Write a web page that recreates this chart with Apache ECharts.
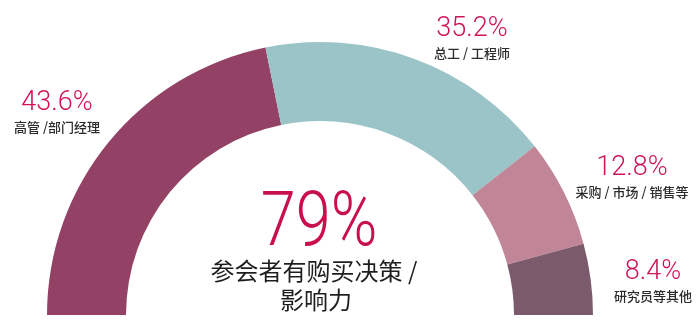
<!DOCTYPE html>
<html>
<head>
<meta charset="utf-8">
<script src="https://cdn.jsdelivr.net/npm/echarts@6/dist/echarts.min.js"></script>
<style>html,body{margin:0;padding:0;background:#fff;}#c{width:700px;height:324px;}</style>
</head>
<body>
<div id="c"></div>
<script>
const categories = ['高管 /部门经理', '总工 / 工程师', '采购 / 市场 / 销售等', '研究员等其他'];
const values = [43.6, 35.2, 12.8, 8.4];
const headline = '79%';
const headlineText = ['参会者有购买决策 /', '影响力'];

const colors = ['#934266', '#9BC4C9', '#C08596', '#7B5B6B'];
const labelPos = [[57, 113], [472, 39], [632, 178], [653, 282]];

const chart = echarts.init(document.getElementById('c'), null, {renderer: 'canvas'});
chart.setOption({
  backgroundColor: '#ffffff',
  animation: false,
  series: [{
    type: 'pie',
    center: [320, 315],
    radius: [194, 273],
    startAngle: 180,
    endAngle: 0,
    clockwise: true,
    silent: true,
    data: categories.map((c, i) => ({name: c, value: values[i], itemStyle: {color: colors[i]}})),
    label: {
      show: true,
      position: 'outside',
      overflow: 'none',
      alignTo: 'none',
      width: 200,
      formatter: p => '{p|' + p.value.toFixed(1) + '%}\n{n|' + p.name + '}',
      rich: {
        p: {fontFamily: 'Roboto', fontWeight: 300, fontSize: 27, lineHeight: 28, color: '#D0145A', align: 'center'},
        n: {fontFamily: 'Noto Sans CJK SC', fontWeight: 500, fontSize: 13, lineHeight: 20, color: '#2b2b2b', align: 'center'}
      }
    },
    labelLine: {show: false},
    labelLayout: params => ({
      x: labelPos[params.dataIndex][0],
      y: labelPos[params.dataIndex][1],
      align: 'center',
      verticalAlign: 'middle'
    })
  }],
  graphic: [
    {
      type: 'text', x: 319, y: 226, scaleX: 0.83, originX: 0, originY: 0,
      style: {text: headline, x: 0, y: 0, fontFamily: 'Roboto', fontWeight: 300, fontSize: 76,
              fill: '#C8104F', textAlign: 'center', textVerticalAlign: 'middle'}
    },
    {
      type: 'text', x: 314, y: 271,
      style: {text: headlineText[0], x: 0, y: 0, fontFamily: 'Noto Sans CJK SC', fontSize: 24,
              fill: '#1e1e1e', textAlign: 'center', textVerticalAlign: 'middle'}
    },
    {
      type: 'text', x: 316, y: 300,
      style: {text: headlineText[1], x: 0, y: 0, fontFamily: 'Noto Sans CJK SC', fontSize: 24,
              fill: '#1e1e1e', textAlign: 'center', textVerticalAlign: 'middle'}
    }
  ]
});
</script>
</body>
</html>
